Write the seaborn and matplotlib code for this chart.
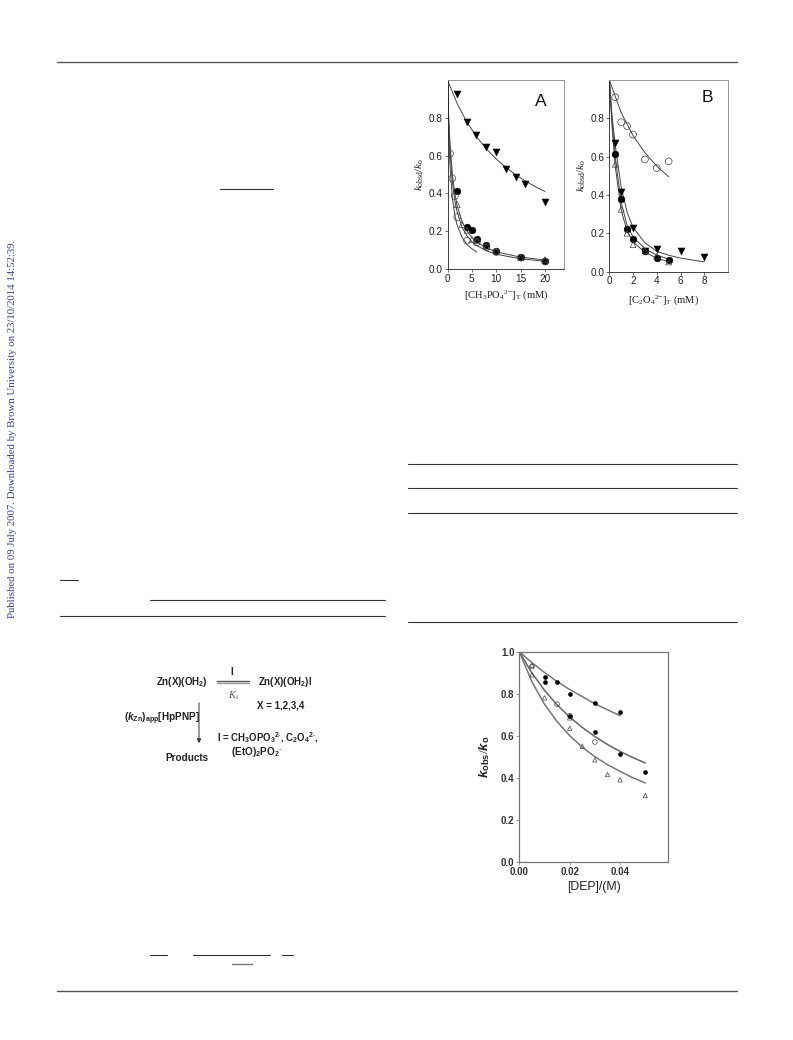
import pandas as pd
import seaborn as sns
import matplotlib
matplotlib.use('Agg')
import matplotlib.pyplot as plt
from matplotlib.lines import Line2D

# panel A points
a_tri_x = [2, 4, 5.9, 8, 10, 12, 14, 16, 20]
a_tri_y = [.925, .78, .71, .645, .62, .53, .485, .45, .355]
a_dot_x = [2, 4, 5, 6, 8, 10, 15, 20]
a_dot_y = [.415, .22, .205, .16, .125, .095, .065, .04]
a_ring_x = [.5, 1, 1.5, 2, 4, 6, 8, 10, 15, 20]
a_ring_y = [.61, .48, .385, .275, .15, .14, .115, .09, .06, .04]
a_open_x = [2, 3, 4, 5, 6, 8, 10, 15, 20]
a_open_y = [.34, .235, .205, .155, .15, .12, .095, .06, .05]
# panel A fitted curves
a_fit1_x = [0, 2, 4, 6, 8, 10, 12, 14, 16, 18, 20]
a_fit1_y = [1, .874, .777, .698, .635, .582, .537, .498, .465, .436, .41]
a_fit_x = [0, .25, .5, 1, 1.5, 2, 3, 4, 5, 6, 8, 10, 15, 20]
a_fit2_y = [1, .8, .667, .5, .4, .333, .25, .2, .167, .143, .111, .091, .0625, .048]
a_fit3_y = [1, .77, .63, .46, .36, .30, .22, .175, .145, .124, .096, .078, .054, .041]
a_fit4_x = [0, .25, .5, 1, 1.5, 2, 3, 4, 5, 6]
a_fit4_y = [1, .71, .55, .375, .286, .23, .167, .13, .107, .09]

# panel B points
b_ring_x = [.5, 1, 1.5, 2, 3, 4, 5]
b_ring_y = [.91, .78, .76, .715, .585, .54, .575]
b_tri_x = [.5, 1, 2, 3, 4, 6, 8]
b_tri_y = [.67, .415, .225, .105, .12, .105, .075]
b_dot_x = [.5, 1, 1.5, 2, 3, 4, 5]
b_dot_y = [.615, .38, .22, .17, .105, .07, .06]
b_open_x = [.5, 1, 1.5, 2, 3, 4, 5]
b_open_y = [.56, .325, .20, .14, .11, .08, .05]
# panel B fitted curves
b_fit1_x = [0, 1, 2, 3, 4, 5]
b_fit1_y = [1, .83, .71, .62, .55, .495]
b_fit2_x = [0, .25, .5, 1, 1.5, 2, 3, 4, 5, 6, 8]
b_fit2_y = [1, .8, .66, .44, .31, .23, .15, .105, .085, .07, .05]
b_fit_x = [0, .25, .5, 1, 1.5, 2, 3, 4, 5]
b_fit3_y = [1, .77, .6, .36, .24, .18, .12, .085, .065]
b_fit4_y = [1, .74, .55, .32, .21, .155, .1, .07, .05]

# panel C points
c_dot_x = [.01, .01, .015, .02, .03, .04, .02, .03, .04, .05]
c_dot_y = [.88, .855, .855, .80, .755, .712, .695, .62, .515, .425]
c_ring_x = [.005, .015, .02, .03]
c_ring_y = [.93, .75, .695, .57]
c_open_x = [.005, .005, .01, .02, .02, .025, .03, .035, .04, .05]
c_open_y = [.935, .89, .78, .685, .635, .55, .485, .415, .39, .315]
# panel C fitted curves
c_fit_x = [0, .005, .01, .015, .02, .03, .04]
c_fit1_y = [1, .948, .901, .858, .82, .752, .695]
c_fit_x2 = [0, .005, .01, .015, .02, .025, .03, .035, .04, .045, .05]
c_fit2_y = [1, .899, .816, .747, .689, .639, .596, .558, .525, .496, .47]
c_fit3_y = [1, .857, .75, .667, .6, .545, .5, .462, .43, .4, .375]

W, H = 793, 1040
sns.set_style('white')
plt.rcParams['font.family'] = ['Liberation Sans', 'DejaVu Sans']
plt.rcParams['mathtext.fontset'] = 'custom'
plt.rcParams['mathtext.rm'] = 'Liberation Serif'
plt.rcParams['mathtext.it'] = 'Liberation Serif:italic'
plt.rcParams['mathtext.bf'] = 'Liberation Sans:bold'
plt.rcParams['mathtext.sf'] = 'Liberation Sans:italic:bold'

fig = plt.figure(figsize=(W / 100, H / 100), dpi=100)


def make_ax(left, right, top, bottom):
    ax = fig.add_axes([left / W, 1 - bottom / H, (right - left) / W, (bottom - top) / H])
    for side in ax.spines:
        ax.spines[side].set_linewidth(0.6)
        ax.spines[side].set_color('#888888')
    ax.spines['left'].set_color('#222222')
    ax.spines['bottom'].set_color('#222222')
    ax.tick_params(left=True, bottom=True, length=2.5, width=0.5, color='#333333', pad=1)
    return ax


def fit(ax, x, y, color='#444444', lw=0.7):
    sns.lineplot(x=x, y=y, ax=ax, color=color, lw=lw, sort=False, errorbar=None)


def pts(ax, x, y, marker, filled, size):
    if filled:
        sns.scatterplot(x=x, y=y, ax=ax, marker=marker, s=size, color='black', edgecolor='black', linewidth=0.3, zorder=3)
    else:
        sns.scatterplot(x=x, y=y, ax=ax, marker=marker, s=size, facecolor='none', edgecolor='#444444', linewidth=0.5, zorder=3)


# panel A
ax = make_ax(447.5, 564, 80, 269)
for xx, yy in [(a_fit1_x, a_fit1_y), (a_fit_x, a_fit2_y), (a_fit_x, a_fit3_y), (a_fit4_x, a_fit4_y)]:
    fit(ax, xx, yy)
pts(ax, a_tri_x, a_tri_y, 'v', True, 26)
pts(ax, a_dot_x, a_dot_y, 'o', True, 24)
pts(ax, a_ring_x, a_ring_y, 'o', False, 24)
pts(ax, a_open_x, a_open_y, '^', False, 18)
ax.set_xlim(0, 23.9)
ax.set_ylim(0, 1.0)
ax.set_xticks([0, 5, 10, 15, 20])
ax.set_yticks([0, .2, .4, .6, .8])
ax.set_yticklabels(['0.0', '0.2', '0.4', '0.6', '0.8'])
ax.tick_params(labelsize=7.2, labelcolor='#222222')
ax.set_xlabel(r'$\mathrm{[CH_3PO_4}^{2\mathrm{-}}\mathrm{]_T\ (mM)}$', fontsize=7.6, labelpad=3, color='#222222')
ax.set_ylabel(r'$k_{\mathrm{obsd}}/k_{\mathrm{o}}$', fontsize=8, labelpad=2, color='#222222')
ax.text(0.80, 0.884, 'A', transform=ax.transAxes, fontsize=12.5, ha='center', va='center', color='#111111')

# panel B
ax = make_ax(609.3, 728, 80, 271.5)
for xx, yy in [(b_fit1_x, b_fit1_y), (b_fit2_x, b_fit2_y), (b_fit_x, b_fit3_y), (b_fit_x, b_fit4_y)]:
    fit(ax, xx, yy)
pts(ax, b_ring_x, b_ring_y, 'o', False, 24)
pts(ax, b_tri_x, b_tri_y, 'v', True, 26)
pts(ax, b_dot_x, b_dot_y, 'o', True, 24)
pts(ax, b_open_x, b_open_y, '^', False, 18)
ax.set_xlim(0, 10)
ax.set_ylim(0, 1.0)
ax.set_xticks([0, 2, 4, 6, 8])
ax.set_yticks([0, .2, .4, .6, .8])
ax.set_yticklabels(['0.0', '0.2', '0.4', '0.6', '0.8'])
ax.tick_params(labelsize=7.2, labelcolor='#222222')
ax.set_xlabel(r'$\mathrm{[C_2O_4}^{2\mathrm{-}}\mathrm{]_T\ (mM)}$', fontsize=7.6, labelpad=5, color='#222222', x=0.46)
ax.set_ylabel(r'$k_{\mathrm{obsd}}/k_{\mathrm{o}}$', fontsize=8, labelpad=2, color='#222222')
ax.text(0.823, 0.911, 'B', transform=ax.transAxes, fontsize=12.5, ha='center', va='center', color='#111111')

# panel C
ax = make_ax(519.3, 668, 651.7, 861.7)
fit(ax, c_fit_x, c_fit1_y, '#777777', 1.1)
fit(ax, c_fit_x2, c_fit2_y, '#666666', 1.1)
fit(ax, c_fit_x2, c_fit3_y, '#777777', 1.1)
pts(ax, c_open_x, c_open_y, '^', False, 10)
pts(ax, c_ring_x, c_ring_y, 'o', False, 11)
pts(ax, c_dot_x, c_dot_y, 'o', True, 9)
for side in ax.spines:
    ax.spines[side].set_linewidth(0.9)
    ax.spines[side].set_color('#777777')
ax.set_xlim(0, 0.059)
ax.set_ylim(0, 1.0)
ax.set_xticks([0, .02, .04])
ax.set_xticklabels(['0.00', '0.02', '0.04'], fontweight='bold')
ax.set_yticks([0, .2, .4, .6, .8, 1.0])
ax.set_yticklabels(['0.0', '0.2', '0.4', '0.6', '0.8', '1.0'], fontweight='bold')
ax.tick_params(labelsize=7, labelcolor='#333333', color='#777777', pad=1)
ax.set_xlabel('[DEP]/(M)', fontsize=8.8, labelpad=3, color='#222222')
ax.set_ylabel(r'$\mathsf{k}_{\mathbf{obs}}/\mathsf{k}_{\mathbf{o}}$', fontsize=9.5, labelpad=6, color='#222222')


def rule(x0, x1, y, lw=0.8, color='#333333'):
    fig.add_artist(Line2D([x0 / W, x1 / W], [1 - y / H, 1 - y / H], lw=lw, color=color))


def label(x, y, s, size=7.2, **kw):
    kw.setdefault('color', '#222222')
    kw.setdefault('va', 'center')
    kw.setdefault('fontweight', 'bold')
    fig.text(x / W, 1 - y / H, s, fontsize=size, **kw)


# page rules
rule(57, 737, 62, 1.0, '#555555')
rule(57, 737, 991, 1.0, '#555555')
rule(408, 737, 464)
rule(408, 737, 488)
rule(408, 737, 513)
rule(408, 737, 622)
rule(60, 78, 580)
rule(150, 385, 600)
rule(60, 385, 616)
rule(220, 273, 189)
rule(150, 167, 955)
rule(193, 270, 955)
rule(282, 293, 955)
rule(232, 252, 964, 1.0, '#777777')

# scheme
label(156, 682, r'Zn(X)(OH$_\mathbf{2}$)', size=7)
label(258, 682, r'Zn(X)(OH$_\mathbf{2}$)I', size=7)
label(232, 672, 'I', ha='center')
label(233, 696, r'$K_{\mathrm{i}}$', fontweight='normal', ha='center', size=7.5, color='#555555')
label(257, 706, 'X = 1,2,3,4', size=7)
label(124, 719, r'($\mathsf{k}_\mathbf{Zn}$)$_\mathbf{app}$[HpPNP]')
label(217, 738, r'I = CH$_\mathbf{3}$OPO$_\mathbf{3}$$^\mathbf{2\text{-}}$, C$_\mathbf{2}$O$_\mathbf{4}$$^\mathbf{2\text{-}}$,', size=6.9)
label(231, 752, r'(EtO)$_\mathbf{2}$PO$_\mathbf{2}$$^\mathbf{\text{-}}$')
label(165, 758, 'Products')
rule(217, 249, 681, 1.0, '#555555')
rule(217, 249, 683, 1.0, '#999999')
fig.add_artist(matplotlib.patches.FancyArrowPatch((199 / W, 1 - 700 / H), (199 / W, 1 - 746 / H),
               transform=fig.transFigure, arrowstyle='-|>', mutation_scale=6, lw=0.7, color='#333333'))

# download note down the left margin
fig.text(13 / W, 1 - 429 / H, 'Published on 09 July 2007. Downloaded by Brown University on 23/10/2014 14:52:39.',
         rotation=90, ha='center', va='center', fontsize=7.75, color='#3b3bb0', family='Liberation Serif')

fig.savefig('out.png', dpi=100)
